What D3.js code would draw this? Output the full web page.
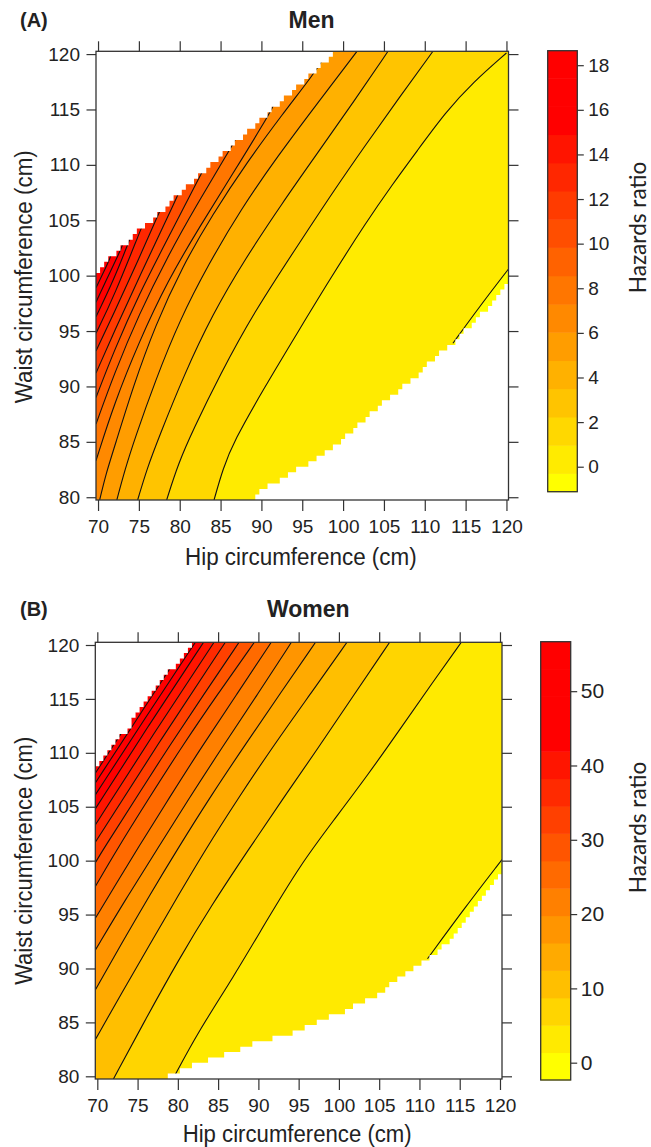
<!DOCTYPE html>
<html>
<head>
<meta charset="utf-8">
<title>Hazards ratio contours</title>
<style>
body { margin: 0; background: #fff; }
text { font-family: "Liberation Sans", Arial, sans-serif; fill: #222; }
.haz { font-family: Lato, "Open Sans", sans-serif; }
</style>
</head>
<body>
<script src="https://cdn.jsdelivr.net/npm/d3@7"></script>
<script>

// tick labels
var hipTicks = [70, 75, 80, 85, 90, 95, 100, 105, 110, 115, 120];
var waistTicks = [80, 85, 90, 95, 100, 105, 110, 115, 120];
var menKeyTicks = [0, 2, 4, 6, 8, 10, 12, 14, 16, 18];
var womenKeyTicks = [0, 10, 20, 30, 40, 50];

// colour key: range and cut levels (hazards ratio)
var menRange = [-1.12, 18.65];
var menLevels = [-0.30, 0.96, 2.23, 3.50, 4.76, 6.03, 7.29, 8.56, 9.83, 11.09, 12.36, 13.62, 14.89, 16.15, 17.42];
var womenRange = [-2.33, 56.66];
var womenLevels = [1.36, 5.04, 8.73, 12.42, 16.11, 19.79, 23.48, 27.17, 30.86, 34.54, 38.23, 41.92, 45.61, 49.29, 52.98];

// contour lines, one per level, [hip, waist]
var menContours = [
  [[113.45, 93.9], [116.7, 97.2], [120.25, 100.6]],
  [[84.2, 79.75], [85.3, 82.6], [86.6, 85.0], [90.2, 89.7], [94.7, 95.2], [98.4, 99.7], [102.85, 104.85], [106.1, 108.3], [109, 111.2], [112.6, 114.8], [115.9, 117.45], [120, 120.1]],
  [[78.4, 79.75], [79.8, 83.0], [81.65, 86.1], [84.9, 91.0], [89, 96.6], [94.7, 103.0], [98.8, 107.6], [102.85, 111.9], [106.9, 116.1], [111, 120.25]],
  [[74.85, 79.75], [76.0, 82.6], [77.5, 85.5], [80.5, 91], [84, 96.5], [88, 101.5], [92.5, 106.5], [97, 111.2], [101.3, 115.7], [105.5, 120.25]],
  [[72.3, 79.75], [73.3, 82.5], [74.5, 85.3], [77, 90.5], [80, 96], [83.5, 101], [87.5, 106], [92, 110.8], [96.8, 115.5], [101.7, 120.25]],
  [[70.2, 79.75], [71, 82.2], [72, 84.5], [74.3, 90], [77, 95.5], [80.3, 100.8], [84, 105.5], [88.3, 110.3], [92.5, 114.5], [96.5, 118.3], [97.5, 119.5]],
  [[69.75, 83.3], [72, 88.5], [75, 94], [78.5, 99.5], [82.5, 104.5], [86.5, 109.2], [90.5, 114], [91.5, 115.4]],
  [[69.75, 86.6], [72, 91.2], [75, 96.5], [78.5, 101.7], [82, 106.3], [86, 111.2], [86.8, 112.3]],
  [[69.75, 89], [72, 93.3], [75, 98.3], [78.5, 103.3], [82.5, 109], [83.2, 110]],
  [[69.75, 91.2], [72, 95], [75, 99.8], [79.5, 106.8], [80, 107.7]],
  [[69.75, 93.2], [72, 96.7], [74.5, 100.7], [77.3, 105.4], [77.8, 106.2]],
  [[69.75, 94.8], [72, 98.2], [75.3, 104.3], [75.6, 104.8]],
  [[69.75, 96.3], [71.8, 99.4], [73.9, 103.3], [74.1, 103.7]],
  [[69.75, 97.6], [71, 99.6], [72.7, 102.2], [73, 102.8]],
  [[69.75, 98.9], [71.4, 101.4], [71.6, 101.9]]
];
// edges of the blank (no estimate) areas
var menBlankTop = [[69.75, 100.25], [71.9, 101.8], [74.8, 103.9], [77.4, 105.45], [80.3, 107.6], [83.3, 109.7], [86.5, 111.7], [89.8, 113.9], [93.7, 116.6], [97.1, 118.85], [99.3, 120.25]];
var menBlankBottom = [[88.7, 79.75], [90.2, 80.65], [92.25, 81.55], [94.7, 82.6], [97.1, 83.6], [99.6, 85.0], [101.2, 86.05], [103.5, 87.55], [106.5, 89.5], [109.0, 91.0], [111.0, 92.4], [113.4, 93.9], [115.1, 95.1], [116.9, 96.45], [118.7, 97.8], [120.25, 99.3]];

var womenContours = [
  [[111.0, 90.9], [115.5, 95.5], [120.25, 100.1]],
  [[79.5, 79.9], [82.5, 84.1], [86.9, 89.2], [91, 94.4], [95.2, 99.6], [99.3, 103.7], [103.45, 107.8], [107.6, 112.2], [111.7, 116.6], [115.2, 120.25]],
  [[72, 79.75], [76, 85.3], [80, 90.7], [84.3, 96], [88.75, 101], [93, 105.7], [97.3, 110.3], [101.7, 115.2], [106.3, 120.25]],
  [[69.75, 83.4], [73, 87.7], [76.5, 92.2], [80, 96.7], [83.4, 101], [87.5, 105.8], [92, 110.8], [96.5, 115.5], [101, 120.25]],
  [[69.75, 88.0], [73, 92.3], [76.5, 96.8], [79.9, 101], [84, 105.9], [88.5, 110.9], [92.8, 115.6], [97.1, 120.25]],
  [[69.75, 91.7], [73.5, 96.4], [77.4, 101], [81.5, 105.9], [85.5, 110.5], [89.8, 115.3], [94.1, 120.25]],
  [[69.75, 94.65], [72.3, 97.8], [74.9, 101], [79, 105.9], [83, 110.6], [87.3, 115.4], [91.6, 120.25]],
  [[69.75, 97.6], [72.4, 101], [76.5, 105.9], [80.7, 110.8], [85, 115.5], [89.5, 120.25]],
  [[69.75, 99.8], [70.7, 101], [74.8, 105.8], [79, 110.7], [83.3, 115.5], [87.6, 120.25]],
  [[69.75, 101.7], [77.5, 110.8], [85.9, 120.25]],
  [[69.75, 103.3], [77, 111.8], [84.5, 120.25]],
  [[69.75, 104.8], [76.5, 112.7], [83.2, 120.25]],
  [[69.75, 106.1], [76, 113.3], [82.4, 120.5]],
  [[69.75, 107.2], [75.5, 113.8], [81.2, 120.3]],
  [[69.75, 108.1], [74.5, 113.6], [79, 118.6]]
];
var womenBlankTop = [[69.75, 108.7], [71.6, 110.3], [73.65, 112.1], [75.7, 114.4], [77.8, 116.5], [79.85, 118.3], [81.7, 119.9], [82.3, 120.25]];
var womenBlankBottom = [[78.2, 79.75], [82.35, 81.2], [86.1, 82.1], [90.2, 83.2], [94.5, 84.1], [97.4, 85.1], [100.9, 86.1], [105.05, 87.7], [108.4, 89.55], [110.9, 90.8], [113.4, 92.3], [115.5, 94.2], [117.5, 96.35], [119.75, 98.5], [120.25, 99.0]];

// yellow -> red ramp, the top bands stay red
function heat(nBands, nDistinct) {
  return d3.range(nBands).map(function(k) {
    var t = Math.min(k, nDistinct - 1) / (nDistinct - 1);
    return d3.hsl(60 * (1 - t), 1, 0.5).formatHex();
  });
}

var width = 651, height = 1147;
var svg = d3.select("body").append("svg")
    .attr("width", width)
    .attr("height", height);

// push an end point of a contour out of the box so the band can be closed
function pushOut(p, isStart) {
  var h = p[0], w = p[1];
  if (h <= 70) return [40, w];
  if (w <= 80) return [h, 60];
  if (w >= 120) return [h, 140];
  if (h >= 120) return [140, w];
  return isStart ? [h, 60] : [h, 140];
}

// blank area drawn on the 0.5 cm grid, as the original image plot did
function blankPolygon(edge, upper) {
  var f = d3.scaleLinear().domain(edge.map(d => d[0])).range(edge.map(d => d[1]));
  var h0 = edge[0][0], h1 = edge[edge.length - 1][0];
  var pts = [];
  for (var i = 0; i <= 100; i++) {
    var h = 70 + i * 0.5, e;
    if (upper) {
      if (h > h1) e = 140;
      else e = 80 + (Math.floor((f(Math.max(h, h0)) - 80) / 0.5) + 1) * 0.5 - 0.25;
    } else {
      if (h < h0) e = 60;
      else e = 80 + (Math.ceil((f(Math.min(h, h1)) - 80) / 0.5) - 1) * 0.5 + 0.25;
    }
    pts.push([h - 0.25, e], [h + 0.25, e]);
  }
  var yEnd = upper ? 140 : 60;
  return [[40, yEnd], [40, pts[0][1]]].concat(pts, [[140, pts[pts.length - 1][1]], [140, yEnd]]);
}

function styleAxis(g, size) {
  g.select(".domain").remove();
  g.selectAll("line").attr("stroke", "#333").attr("stroke-width", 1.2);
  g.selectAll("text").attr("fill", "#222").style("font-size", size + "px")
      .style("font-family", "'Liberation Sans', Arial, sans-serif");
}

function drawPanel(p) {
  var x = d3.scaleLinear().domain([69.75, 120.25]).range([p.l, p.r]);
  var y = d3.scaleLinear().domain([79.75, 120.25]).range([p.b, p.t]);
  var line = d3.line().x(d => x(d[0])).y(d => y(d[1]));
  var smooth = d3.line().x(d => x(d[0])).y(d => y(d[1])).curve(d3.curveBasis);

  // area above-left of a contour, closed outside the box
  function bandPath(pts) {
    var close = [pushOut(pts[pts.length - 1], false), [140, 140], [40, 140], [40, 60], pushOut(pts[0], true)];
    return smooth(pts) + close.map(c => "L" + x(c[0]) + "," + y(c[1])).join("") + "Z";
  }

  svg.append("clipPath").attr("id", "clip" + p.id)
    .append("rect")
      .attr("x", p.l).attr("y", p.t)
      .attr("width", p.r - p.l).attr("height", p.b - p.t);

  var plot = svg.append("g").attr("clip-path", "url(#clip" + p.id + ")");

  plot.append("rect")
      .attr("x", p.l).attr("y", p.t)
      .attr("width", p.r - p.l).attr("height", p.b - p.t)
      .attr("fill", p.colors[0]);

  plot.selectAll(".band")
    .data(p.contours)
    .enter().append("path")
      .attr("class", "band")
      .attr("d", bandPath)
      .attr("fill", (d, k) => p.colors[k + 1]);

  plot.selectAll(".cline")
    .data(p.contours)
    .enter().append("path")
      .attr("class", "cline")
      .attr("d", smooth)
      .attr("fill", "none")
      .attr("stroke", "#111")
      .attr("stroke-width", 1.1);

  plot.append("path").attr("d", line(blankPolygon(p.blankTop, true)) + "Z").attr("fill", "#fff");
  plot.append("path").attr("d", line(blankPolygon(p.blankBottom, false)) + "Z").attr("fill", "#fff");

  svg.append("rect")
      .attr("x", p.l).attr("y", p.t)
      .attr("width", p.r - p.l).attr("height", p.b - p.t)
      .attr("fill", "none").attr("stroke", "#333").attr("stroke-width", 1.3);

  // axes, ticks on all four sides
  svg.append("g").attr("transform", "translate(" + p.l + ",0)")
      .call(d3.axisLeft(y).tickValues(waistTicks).tickSize(9.5).tickPadding(6.5).tickSizeOuter(0))
      .call(styleAxis, 19);
  svg.append("g").attr("transform", "translate(0," + p.b + ")")
      .call(d3.axisBottom(x).tickValues(hipTicks).tickSize(11).tickPadding(p.xPad).tickSizeOuter(0))
      .call(styleAxis, 19);
  svg.append("g").attr("transform", "translate(0," + p.t + ")")
      .call(d3.axisTop(x).tickValues(hipTicks).tickSize(10).tickFormat("").tickSizeOuter(0))
      .call(styleAxis, 19);
  svg.append("g").attr("transform", "translate(" + p.r + ",0)")
      .call(d3.axisRight(y).tickValues(waistTicks).tickSize(10).tickFormat("").tickSizeOuter(0))
      .call(styleAxis, 19);

  svg.append("text")
      .attr("transform", "translate(" + p.xlab[0] + "," + p.xlab[1] + ")")
      .attr("text-anchor", "middle")
      .attr("textLength", p.xlab[2]).attr("lengthAdjust", "spacingAndGlyphs")
      .style("font-size", "23px")
      .text("Hip circumference (cm)");
  svg.append("text")
      .attr("transform", "translate(" + p.ylab[0] + "," + p.ylab[1] + ") rotate(-90)")
      .attr("text-anchor", "middle")
      .attr("textLength", p.ylab[2]).attr("lengthAdjust", "spacingAndGlyphs")
      .style("font-size", "23px")
      .text("Waist circumference (cm)");

  svg.append("text")
      .attr("x", p.title[0]).attr("y", p.title[1])
      .attr("text-anchor", "middle")
      .style("font-size", "23px").style("font-weight", "bold")
      .text(p.name);
  svg.append("text")
      .attr("x", 20).attr("y", p.title[1] - 1)
      .style("font-size", "20px").style("font-weight", "bold")
      .text(p.tag);

  // colour key
  var k = d3.scaleLinear().domain(p.range).range([p.key.b, p.key.t]);
  var cuts = [p.range[0]].concat(p.levels, [p.range[1]]);
  svg.selectAll(".key" + p.id)
    .data(p.colors)
    .enter().append("rect")
      .attr("x", p.key.l)
      .attr("width", p.key.r - p.key.l)
      .attr("y", (d, i) => k(cuts[i + 1]))
      .attr("height", (d, i) => k(cuts[i]) - k(cuts[i + 1]) + 0.5)
      .attr("fill", d => d);
  svg.append("rect")
      .attr("x", p.key.l).attr("y", p.key.t)
      .attr("width", p.key.r - p.key.l).attr("height", p.key.b - p.key.t)
      .attr("fill", "none").attr("stroke", "#333").attr("stroke-width", 1.3);
  svg.append("g").attr("transform", "translate(" + p.key.r + ",0)")
      .call(d3.axisRight(k).tickValues(p.keyTicks).tickSize(6.5).tickPadding(p.key.pad).tickSizeOuter(0))
      .call(styleAxis, p.key.font);

  svg.append("text")
      .attr("class", "haz")
      .attr("transform", "translate(" + p.haz[0] + "," + p.haz[1] + ") rotate(-90)")
      .attr("text-anchor", "middle")
      .attr("textLength", 131.5).attr("lengthAdjust", "spacingAndGlyphs")
      .style("font-size", "24px")
      .text("Hazards ratio");
}

drawPanel({
  id: "A", name: "Men", tag: "(A)",
  l: 96, r: 508.5, t: 51.3, b: 500, xPad: 8.8,
  contours: menContours, levels: menLevels, range: menRange,
  blankTop: menBlankTop, blankBottom: menBlankBottom,
  colors: heat(16, 14), keyTicks: menKeyTicks,
  key: {l: 547.7, r: 577.3, t: 50.7, b: 491.7, pad: 4.5, font: 19},
  haz: [646, 227.5],
  title: [311.5, 28.3],
  xlab: [300.8, 565, 231.7],
  ylab: [32, 276.7, 253]
});

drawPanel({
  id: "B", name: "Women", tag: "(B)",
  l: 95.3, r: 502, t: 642.3, b: 1079, xPad: 8.5,
  contours: womenContours, levels: womenLevels, range: womenRange,
  blankTop: womenBlankTop, blankBottom: womenBlankBottom,
  colors: heat(16, 13), keyTicks: womenKeyTicks,
  key: {l: 540.7, r: 570.7, t: 641.7, b: 1080, pad: 3.5, font: 21},
  haz: [646, 827.5],
  title: [308.3, 616.7],
  xlab: [297.2, 1142, 229],
  ylab: [32, 860.8, 248]
});

</script>
</body>
</html>
